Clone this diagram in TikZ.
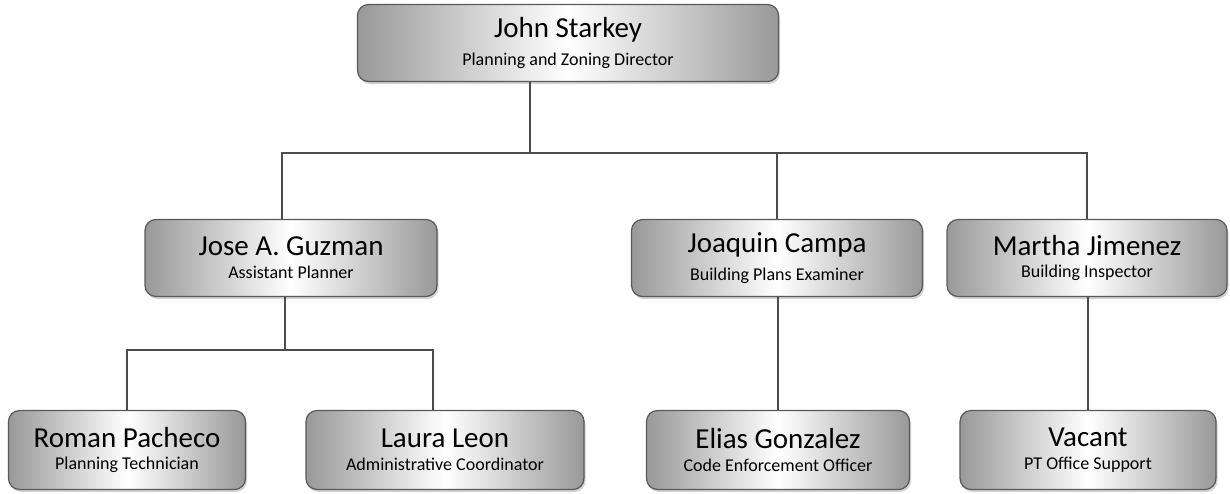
\documentclass[tikz,border=0pt]{standalone}
\usepackage{fontspec}
\setmainfont{Carlito}
\usetikzlibrary{positioning,shadows}

\begin{document}
\begin{tikzpicture}[x=1pt,y=-1pt,line width=1.6pt,draw=black!70]
  \tikzstyle{person}=[draw=black!65,line width=1.2pt,rounded corners=11pt,
      left color=black!40,right color=black!40,middle color=white,
      drop shadow={opacity=0.35,shadow xshift=1.5pt,shadow yshift=-2.5pt},
      align=center,inner sep=0pt,minimum height=77pt]
  \tikzstyle{link}=[draw=black!70,line width=1.6pt]
  \newcommand{\nm}[1]{{\fontsize{29}{32}\selectfont #1}}
  \newcommand{\rl}[1]{{\fontsize{18}{20}\selectfont #1}}

  \useasboundingbox (0,0) rectangle (1230,493);

  \node[person,minimum width=421pt] (JS) at (568,43) {\nm{John Starkey}\\[9pt]\rl{Planning and Zoning Director}};
  \node[person,minimum width=292pt] (JG) at (291,258) {\nm{Jose A. Guzman}\\[9pt]\rl{Assistant Planner}};
  \node[person,minimum width=291pt] (JC) at (777,258) {\nm{Joaquin Campa}\\[9pt]\rl{Building Plans Examiner}};
  \node[person,minimum width=280pt] (MJ) at (1087,258) {\nm{Martha Jimenez}\\[9pt]\rl{Building Inspector}};
  \node[person,minimum width=237pt,minimum height=79pt] (RP) at (127,450) {\nm{Roman Pacheco}\\[9pt]\rl{Planning Technician}};
  \node[person,minimum width=278pt,minimum height=79pt] (LL) at (445,450) {\nm{Laura Leon}\\[9pt]\rl{Administrative Coordinator}};
  \node[person,minimum width=263pt,minimum height=79pt] (EG) at (778,450) {\nm{Elias Gonzalez}\\[9pt]\rl{Code Enforcement Officer}};
  \node[person,minimum width=256pt,minimum height=79pt] (VC) at (1088,450) {\nm{Vacant}\\[9pt]\rl{PT Office Support}};

  \coordinate (top) at (530,153);
  \coordinate (mid) at (285,350);

  \draw[link] (JS.south -| top) -- (top);
  \draw[link] (JG.north -| 282,0) |- (MJ.north |- top) -- (MJ.north);
  \draw[link] (JC.north) -- (JC.north |- top);
  \draw[link] (JG.south -| mid) -- (mid);
  \draw[link] (RP.north) |- (mid) -| (LL.north -| 433,0) -- (LL.north -| 433,0);
  \draw[link] (JC.south -| EG.north) -- (EG.north);
  \draw[link] (MJ.south -| VC.north) -- (VC.north);
\end{tikzpicture}
\end{document}
